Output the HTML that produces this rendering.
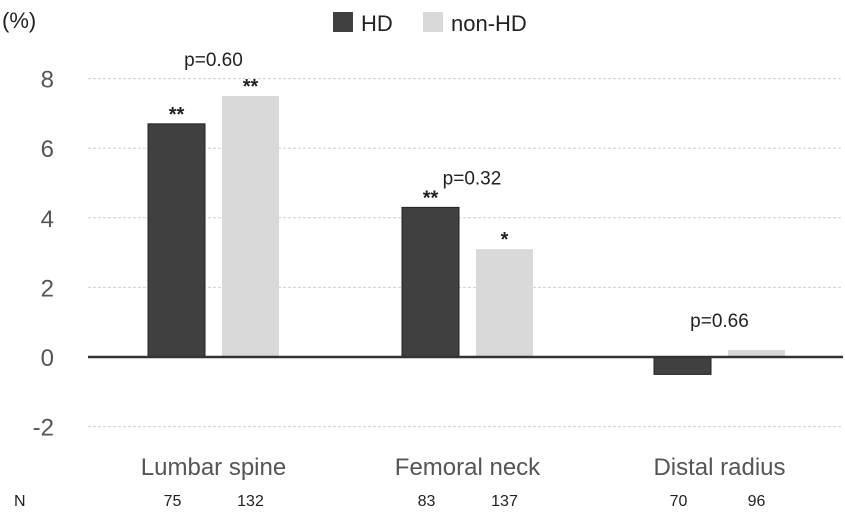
<!DOCTYPE html>
<html><head><meta charset="utf-8"><style>
html,body{margin:0;padding:0;background:#fff;}
svg{display:block;font-family:"Liberation Sans",sans-serif;}
</style></head><body>
<svg id="chart" width="845" height="520">
<text x="2" y="28" font-size="22" fill="#222">(%)</text>
<g>
<rect x="333" y="12" width="20" height="20" fill="#404040"/>
<text x="361" y="31" font-size="22" fill="#222">HD</text>
<rect x="423" y="12" width="20" height="20" fill="#d9d9d9"/>
<text x="451" y="31" font-size="22" fill="#222">non-HD</text>
</g>
<g id="grid"></g><g id="bars"></g><g id="labels"></g>
<text x="14" y="506" font-size="16" fill="#222">N</text>
</svg>
<script>
const ticks=[8,6,4,2,0,-2];
const categories=["Lumbar spine","Femoral neck","Distal radius"];
const hdValues=[6.7,4.3,-0.5];
const nonHdValues=[7.5,3.1,0.2];
const hdMarks=["**","**",""];
const nonHdMarks=["**","*",""];
const pValues=["p=0.60","p=0.32","p=0.66"];
const hdN=["75","83","70"];
const nonHdN=["132","137","96"];
const NS="http://www.w3.org/2000/svg";
const y0=357,unit=34.8;
const y=v=>y0-v*unit;
const groupX=[148,402,654];
const bw=57,gap=17;
function mk(t,a,p){const e=document.createElementNS(NS,t);for(const k in a)e.setAttribute(k,a[k]);document.getElementById(p).appendChild(e);return e;}
ticks.forEach(t=>{
 const tx=mk('text',{x:54,y:y(t)+9,'font-size':24,fill:'#555','text-anchor':'end'},'grid');tx.textContent=t;
 
 
 if(t!==0){const l=mk('line',{x1:88,x2:843,y1:y(t),y2:y(t),stroke:'#d0d0d0','stroke-dasharray':'3,2'},'grid');
 
 }
});
categories.forEach((c,i)=>{
 const x1=groupX[i],x2=x1+bw+gap;
 const v1=hdValues[i],v2=nonHdValues[i];
 const b1=mk('rect',{x:x1,y:Math.min(y(v1),y0),width:bw,height:Math.abs(y(v1)-y0),fill:'#404040',stroke:'#222','stroke-width':1},'bars');
 
 
 const b2=mk('rect',{x:x2,y:Math.min(y(v2),y0),width:bw,height:Math.abs(y(v2)-y0),fill:'#d9d9d9'},'bars');
 
 
 const s1=mk('text',{x:x1+bw/2,y:y(Math.max(v1,0))-3,'font-size':20,'font-weight':'bold','text-anchor':'middle',fill:'#222'},'labels');s1.textContent=hdMarks[i];
 
 
 const s2=mk('text',{x:x2+bw/2,y:y(Math.max(v2,0))-3,'font-size':20,'font-weight':'bold','text-anchor':'middle',fill:'#222'},'labels');s2.textContent=nonHdMarks[i];
 
 
 const top=Math.max(v1,v2,0);
 const px=i===1?x2-4:x1+bw+gap/2;
 const p=mk('text',{x:px,y:y(top)-(i===0?30:23),'font-size':19,'text-anchor':'middle',fill:'#222'},'labels');p.textContent=pValues[i];
 
 
 const cl=mk('text',{x:x1+bw+gap/2,y:475,'font-size':24,'text-anchor':'middle',fill:'#555'},'labels');cl.textContent=c;
 
 
 const n1=mk('text',{x:x1+bw/2-4,y:506,'font-size':16,'text-anchor':'middle',fill:'#222'},'labels');n1.textContent=hdN[i];
 
 
 const n2=mk('text',{x:x2+bw/2,y:506,'font-size':16,'text-anchor':'middle',fill:'#222'},'labels');n2.textContent=nonHdN[i];
 
 
});
const ax=mk('line',{x1:88,x2:843,y1:y0,y2:y0,stroke:'#333','stroke-width':2.5},'labels');


</script>
</body></html>
